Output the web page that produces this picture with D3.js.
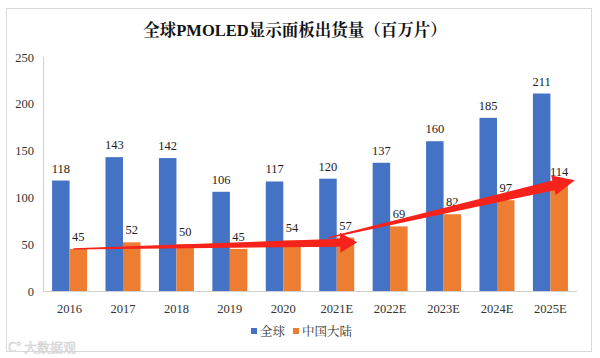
<!DOCTYPE html>
<html><head><meta charset="utf-8">
<script src="https://cdn.jsdelivr.net/npm/d3@7"></script>
<style>body{margin:0;background:#fff}svg{display:block}</style>
</head><body>
<svg id="c" width="600" height="358"></svg>
<script>
const categories = ["2016","2017","2018","2019","2020","2021E","2022E","2023E","2024E","2025E"];
const globalValues = [118,143,142,106,117,120,137,160,185,211];
const chinaValues = [45,52,50,45,54,57,69,82,97,114];
const yTicks = [0,50,100,150,200,250];
const seriesNames = ["全球","中国大陆"];
const colors = ["#4472C4","#ED7D31"];
// trend arrows annotation: [fromCategory, fromValue, toCategory, toValue]
const arrows = [["2016",45,"2021E",52],["2021E",57,"2025E",114]];

const svg = d3.select("#c");
const serif = "'Liberation Serif','Noto Serif CJK SC','Noto Sans CJK SC',serif";
svg.append("rect").attr("x",6.5).attr("y",8.5).attr("width",585).attr("height",343)
  .attr("fill","#fff").attr("stroke","#d9d9d9");

const m = {l:43, r:577, t:57, b:291};
const x = d3.scaleBand().domain(categories).range([m.l,m.r]).paddingInner(0.345).paddingOuter(0.17);
const xs = d3.scaleBand().domain([0,1]).range([0,x.bandwidth()]);
const y = d3.scaleLinear().domain([0,250]).range([m.b,m.t]);

svg.append("text").attr("x",295).attr("y",36).attr("text-anchor","middle")
  .attr("font-family",serif).attr("font-weight","bold").attr("font-size",16.5).attr("fill","#111")
  .text("全球PMOLED显示面板出货量（百万片）");

// axes
svg.append("line").attr("x1",m.l+0.5).attr("x2",m.l+0.5).attr("y1",m.t).attr("y2",m.b).attr("stroke","#d0d0d0");
svg.append("line").attr("x1",m.l).attr("x2",m.r).attr("y1",m.b+0.5).attr("y2",m.b+0.5).attr("stroke","#d0d0d0");
svg.selectAll(".yt").data(yTicks).join("text").attr("x",34).attr("y",d=>y(d)+4.5)
  .attr("text-anchor","end").attr("font-family",serif).attr("font-size",12.5).attr("fill","#333").text(d=>d);
svg.selectAll(".xt").data(categories).join("text").attr("x",d=>x(d)+x.bandwidth()/2).attr("y",313)
  .attr("text-anchor","middle").attr("font-family",serif).attr("font-size",12.5).attr("fill","#333").text(d=>d);

const series = [globalValues, chinaValues];
series.forEach((vals,si)=>{
  const g = svg.append("g");
  g.selectAll("rect").data(vals).join("rect")
    .attr("x",(d,i)=>x(categories[i])+xs(si)).attr("width",xs.bandwidth())
    .attr("y",d=>y(d)).attr("height",d=>m.b-y(d)).attr("fill",colors[si]);
  g.selectAll("text").data(vals).join("text")
    .attr("x",(d,i)=>x(categories[i])+xs(si)+xs.bandwidth()/2).attr("y",d=>y(d)-8)
    .attr("text-anchor","middle").attr("font-family",serif).attr("font-size",12.5).attr("fill","#222").text(d=>d);
});

// red arrows
arrows.forEach(([c0,v0,c1,v1],k)=>{
  const x0 = x(c0)+xs(1)+ (k===0?4:-8), y0 = y(v0);
  const x1 = x(c1)+xs(1)+xs.bandwidth()+ (k===0?3:7), y1 = y(v1)+ (k===0?0:-4);
  const dx=x1-x0, dy=y1-y0, L=Math.hypot(dx,dy), ux=dx/L, uy=dy/L, nx=-uy, ny=ux;
  const hl = k===0?17:22, hw = k===0?10:10, w0=0.6, w1 = k===0?4:5;
  const bx=x1-ux*hl, by=y1-uy*hl;
  const pts=[[x0+nx*w0,y0+ny*w0],[bx+nx*w1,by+ny*w1],[bx+nx*hw,by+ny*hw],[x1,y1],
    [bx-nx*hw,by-ny*hw],[bx-nx*w1,by-ny*w1],[x0-nx*w0,y0-ny*w0]];
  svg.append("polygon").attr("points",pts.map(p=>p.join(",")).join(" ")).attr("fill","#F5231B");
});

// legend
const lg = svg.append("g");
const lx=[251,293];
seriesNames.forEach((n,i)=>{
  lg.append("rect").attr("x",lx[i]).attr("y",328).attr("width",6).attr("height",6).attr("fill",colors[i]);
  lg.append("text").attr("x",lx[i]+9).attr("y",336).attr("font-family",serif).attr("font-size",12.5).attr("fill","#333").text(n);
});
svg.append("text").attr("x",8).attr("y",352).attr("font-family","'Noto Sans CJK SC',sans-serif")
  .attr("font-size",13).attr("fill","#e2e2e2").attr("stroke","#cfcfcf").attr("stroke-width",0.4).text("C° 大数据观");
</script>
</body></html>
